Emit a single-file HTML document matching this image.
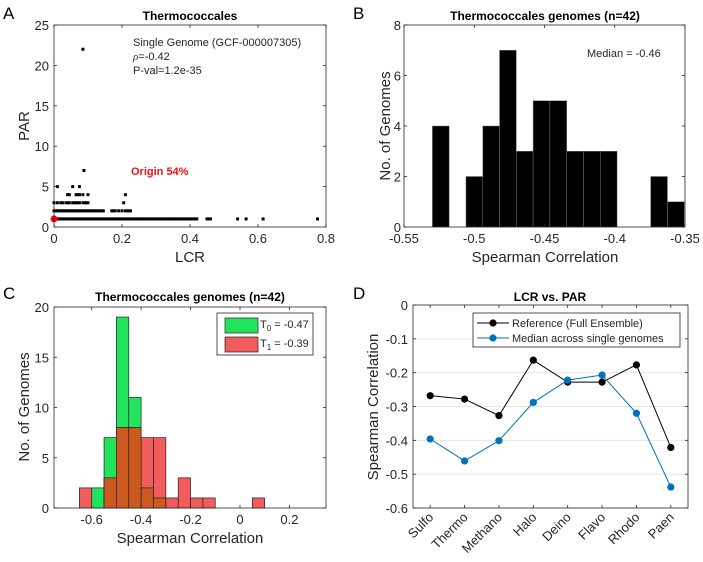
<!DOCTYPE html>
<html><head><meta charset="utf-8"><style>
html,body{margin:0;padding:0;background:#fff;}
svg{display:block;font-family:"Liberation Sans",Arial,sans-serif;}
</style></head><body>
<svg id="fig" width="703" height="562" viewBox="0 0 703 562"></svg>
<script>
// ---- Panel A data ----
const aPar1Lcr=[0,0.005,0.01,0.015,0.02,0.025,0.03,0.035,0.04,0.045,0.05,0.055,0.06,0.065,0.07,0.075,0.08,0.085,0.09,0.095,0.1,0.105,0.11,0.115,0.12,0.125,0.13,0.135,0.14,0.145,0.15,0.155,0.16,0.165,0.17,0.175,0.18,0.185,0.19,0.195,0.2,0.205,0.21,0.215,0.22,0.225,0.23,0.235,0.24,0.245,0.25,0.255,0.26,0.265,0.27,0.275,0.28,0.285,0.29,0.295,0.3,0.305,0.31,0.315,0.32,0.325,0.33,0.335,0.34,0.345,0.35,0.355,0.36,0.365,0.37,0.375,0.38,0.385,0.39,0.395,0.4,0.405,0.41,0.415,0.42,0.45,0.455,0.46,0.54,0.565,0.615,0.775];
const aPar2Lcr=[0,0.005,0.01,0.015,0.02,0.025,0.03,0.035,0.04,0.045,0.05,0.055,0.06,0.065,0.07,0.075,0.08,0.085,0.09,0.095,0.1,0.105,0.11,0.115,0.12,0.125,0.13,0.135,0.14,0.145,0.17,0.175,0.18,0.19,0.2,0.21,0.215,0.22,0.225];
const aPar3Lcr=[0,0.01,0.02,0.025,0.035,0.04,0.045,0.055,0.06,0.065,0.07,0.075,0.085,0.09,0.095,0.1,0.205];
const aPar4Lcr=[0.04,0.045,0.065,0.07,0.075,0.085,0.1,0.21];
const aPar5Lcr=[0.01,0.055,0.075];
const aHighLcr=[0.088,0.085];
const aHighPar=[7,22];
const aXTicks=[0,0.2,0.4,0.6,0.8];
const aYTicks=[0,5,10,15,20,25];
// ---- Panel B data ----
const bStart=-0.5298, bWidth=0.01195;
const bCounts=[4,0,2,4,7,3,5,5,3,3,3,0,0,2,1];
const bXTicks=[-0.55,-0.5,-0.45,-0.4,-0.35];
const bYTicks=[0,2,4,6,8];
// ---- Panel C data ----
const cStart=-0.65, cWidth=0.05;
const cT0=[0,2,7,19,11,2,1,0,0,0,0,0,0,0,0];
const cT1=[2,0,3,8,8,7,7,1,3,1,1,0,0,0,1];
const cXTicks=[-0.6,-0.4,-0.2,0,0.2];
const cYTicks=[0,5,10,15,20];
// ---- Panel D data ----
const dCats=["Sulfo","Thermo","Methano","Halo","Deino","Flavo","Rhodo","Paen"];
const dRef=[-0.268,-0.278,-0.327,-0.163,-0.228,-0.228,-0.177,-0.421];
const dMed=[-0.396,-0.461,-0.401,-0.288,-0.222,-0.207,-0.320,-0.538];
const dYTicks=[0,-0.1,-0.2,-0.3,-0.4,-0.5,-0.6];

const NS="http://www.w3.org/2000/svg";
const svg=document.getElementById('fig');
function el(tag,attrs,parent,text){const e=document.createElementNS(NS,tag);for(const k in attrs)e.setAttribute(k,attrs[k]);if(text!==undefined)e.textContent=text;(parent||svg).appendChild(e);return e;}
function lin(d0,d1,r0,r1){return v=>r0+(v-d0)/(d1-d0)*(r1-r0);}
function fmt(v){return String(Math.round(v*1000)/1000);}

function axesBox(g,L,R,T,B,x,y,xt,yt,opts){
  opts=opts||{};
  const yoff=opts.yoff||5;
  if(opts.grid){yt.forEach(v=>{const ln=el('line',{x1:L,x2:R,y1:y(v),y2:y(v),stroke:'#e6e6e6','stroke-width':1},g);});}
  return ()=>{
    const box=el('rect',{x:L,y:T,width:R-L,height:B-T,fill:'none',stroke:'#262626','stroke-width':0.8},g);
    
    if(xt)xt.forEach(v=>{const px=x(v);el('line',{x1:px,x2:px,y1:B,y2:B-3,stroke:'#262626','stroke-width':0.8},g);el('line',{x1:px,x2:px,y1:T,y2:T+3,stroke:'#262626','stroke-width':0.8},g);
      const t=el('text',{x:px,y:B+16,'text-anchor':'middle','font-size':13,fill:'#262626'},g,fmt(v));});
    yt.forEach(v=>{const py=y(v);el('line',{x1:L,x2:L+3,y1:py,y2:py,stroke:'#262626','stroke-width':0.8},g);el('line',{x1:R,x2:R-3,y1:py,y2:py,stroke:'#262626','stroke-width':0.8},g);
      const t=el('text',{x:L-yoff,y:py+5,'text-anchor':'end','font-size':13,fill:'#262626'},g,fmt(v));});
  };
}
function label(g,txt,x,y,size,name,extra){const a=Object.assign({x:x,y:y,'font-size':size,fill:'#262626'},extra||{});const t=el('text',a,g,txt);return t;}

// ===== Panel A =====
(function(){
  const g=el('g',{});
  const L=54,R=326,T=25,B=227;const x=lin(0,0.8,L,R),y=lin(0,25,B,T);
  const fin=axesBox(g,L,R,T,B,x,y,aXTicks,aYTicks);
  function pt(v,par){const r=el('rect',{x:x(v)-1.5,y:y(par)-1.5,width:3,height:3,fill:'#000'},g);}
  aPar1Lcr.forEach(v=>pt(v,1));aPar2Lcr.forEach(v=>pt(v,2));aPar3Lcr.forEach(v=>pt(v,3));aPar4Lcr.forEach(v=>pt(v,4));aPar5Lcr.forEach(v=>pt(v,5));
  aHighLcr.forEach((v,i)=>pt(v,aHighPar[i]));
  const o=el('circle',{cx:x(0),cy:y(1),r:3.5,fill:'#ff0000'},g);
  fin();
  label(g,'Thermococcales',190,20,12,'chart-title',{'text-anchor':'middle','font-weight':'bold',fill:'#000'});
  label(g,'LCR',190,262,15,'x-axis-title',{'text-anchor':'middle'});
  label(g,'PAR',0,0,15,'y-axis-title',{'text-anchor':'middle',transform:'translate(29,126) rotate(-90)'});
  label(g,'Single Genome (GCF-000007305)',133,46,11,'annotation-genome');
  const r=label(g,'',133,60,11,'annotation-rho');
  el('tspan',{'font-style':'italic','font-family':'Liberation Serif, serif'},r,'ρ');el('tspan',{},r,'=-0.42');
  label(g,'P-val=1.2e-35',133,74,11,'annotation-pval');
  label(g,'Origin 54%',131,175,11,'origin-label',{fill:'#ee1111','font-weight':'bold'});
  label(g,'A',3,19,17,'panel-letter',{fill:'#000'});
})();

// ===== Panel B =====
(function(){
  const g=el('g',{});
  const L=404,R=685,T=25,B=227;const x=lin(-0.55,-0.35,L,R),y=lin(0,8,B,T);
  const fin=axesBox(g,L,R,T,B,x,y,bXTicks,bYTicks,{yoff:3});
  bCounts.forEach((c,i)=>{if(!c)return;const x0=x(bStart+i*bWidth),x1=x(bStart+(i+1)*bWidth);
    const r=el('rect',{x:x0,y:y(c),width:x1-x0,height:y(0)-y(c),fill:'#000',stroke:'#777','stroke-width':0.5},g);});
  fin();
  label(g,'Thermococcales genomes (n=42)',545,20,12,'chart-title',{'text-anchor':'middle','font-weight':'bold',fill:'#000'});
  label(g,'Spearman Correlation',545,262,15,'x-axis-title',{'text-anchor':'middle'});
  label(g,'No. of Genomes',0,0,15,'y-axis-title',{'text-anchor':'middle',transform:'translate(390,126) rotate(-90)'});
  label(g,'Median = -0.46',587,57,11,'median-annotation');
  label(g,'B',353,19,17,'panel-letter',{fill:'#000'});
})();

// ===== Panel C =====
(function(){
  const g=el('g',{});
  const L=54,R=326,T=307,B=508;const x=lin(-0.7525,0.348,L,R),y=lin(0,20,B,T);
  const fin=axesBox(g,L,R,T,B,x,y,cXTicks,cYTicks);
  function bars(arr,fill,name){arr.forEach((c,i)=>{if(!c)return;const x0=x(cStart+i*cWidth),x1=x(cStart+(i+1)*cWidth);
    const r=el('rect',{x:x0,y:y(c),width:x1-x0,height:y(0)-y(c),fill:fill,stroke:'#222','stroke-width':0.7},g);});}
  bars(cT0,'#22e35c','bar-t0');
  bars(cT1,'#f25c5c','bar-t1');
  bars(cT0.map((v,i)=>Math.min(v,cT1[i])),'#cc5a1e','bar-overlap');
  fin();
  const lg=el('g',{});g.appendChild(lg);
  el('rect',{x:217,y:313,width:96,height:42,fill:'#fff',stroke:'#262626','stroke-width':0.8},lg);
  const s0=el('rect',{x:225,y:318,width:33,height:15,fill:'#22e35c',stroke:'#222','stroke-width':0.7},lg);
  const s1=el('rect',{x:225,y:337,width:33,height:15,fill:'#f25c5c',stroke:'#222','stroke-width':0.7},lg);
  const t0=label(lg,'',260,328,11,'legend-entry-t0');el('tspan',{},t0,'T');el('tspan',{'font-size':8,dy:3},t0,'0');el('tspan',{dy:-3},t0,' = -0.47');
  const t1=label(lg,'',260,347,11,'legend-entry-t1');el('tspan',{},t1,'T');el('tspan',{'font-size':8,dy:3},t1,'1');el('tspan',{dy:-3},t1,' = -0.39');
  label(g,'Thermococcales genomes (n=42)',190,301,12,'chart-title',{'text-anchor':'middle','font-weight':'bold',fill:'#000'});
  label(g,'Spearman Correlation',190,543,15,'x-axis-title',{'text-anchor':'middle'});
  label(g,'No. of Genomes',0,0,15,'y-axis-title',{'text-anchor':'middle',transform:'translate(29,407) rotate(-90)'});
  label(g,'C',3,299,17,'panel-letter',{fill:'#000'});
})();

// ===== Panel D =====
(function(){
  const g=el('g',{});
  const L=413,R=688,T=305,B=508;const x=lin(0.5,dCats.length+0.5,L,R),y=lin(-0.6,0,B,T);
  const fin=axesBox(g,L,R,T,B,x,y,null,dYTicks,{grid:true});
  function series(vals,color,name){
    const d=vals.map((v,i)=>(i?'L':'M')+x(i+1)+','+y(v)).join(' ');
    const p=el('path',{d:d,fill:'none',stroke:color,'stroke-width':1},g);
    vals.forEach((v,i)=>{const c=el('circle',{cx:x(i+1),cy:y(v),r:3.6,fill:color},g);});
  }
  series(dRef,'#000','reference');
  series(dMed,'#0072bd','median');
  fin();
  dCats.forEach((c,i)=>{const px=x(i+1);el('line',{x1:px,x2:px,y1:B,y2:B-3,stroke:'#262626','stroke-width':0.8},g);el('line',{x1:px,x2:px,y1:T,y2:T+3,stroke:'#262626','stroke-width':0.8},g);
    const t=el('text',{x:px+4,y:B+10,'text-anchor':'end','font-size':13,fill:'#262626',transform:`rotate(-45 ${px+4} ${B+10})`},g,c);});
  const lg=el('g',{});g.appendChild(lg);
  el('rect',{x:473,y:313,width:207,height:34,fill:'#fff',stroke:'#262626','stroke-width':0.8},lg);
  el('line',{x1:477,x2:509,y1:323,y2:323,stroke:'#000','stroke-width':1},lg);el('circle',{cx:493,cy:323,r:3.6,fill:'#000'},lg);
  el('line',{x1:477,x2:509,y1:338,y2:338,stroke:'#0072bd','stroke-width':1},lg);el('circle',{cx:493,cy:338,r:3.6,fill:'#0072bd'},lg);
  label(lg,'Reference (Full Ensemble)',512,327,11,'legend-entry-reference');
  label(lg,'Median across single genomes',512,342,11,'legend-entry-median');
  label(g,'LCR vs. PAR',550,301,12,'chart-title',{'text-anchor':'middle','font-weight':'bold',fill:'#000'});
  label(g,'Spearman Correlation',0,0,15,'y-axis-title',{'text-anchor':'middle',transform:'translate(378,407) rotate(-90)'});
  label(g,'D',353,299,17,'panel-letter',{fill:'#000'});
})();
</script>
</body></html>
